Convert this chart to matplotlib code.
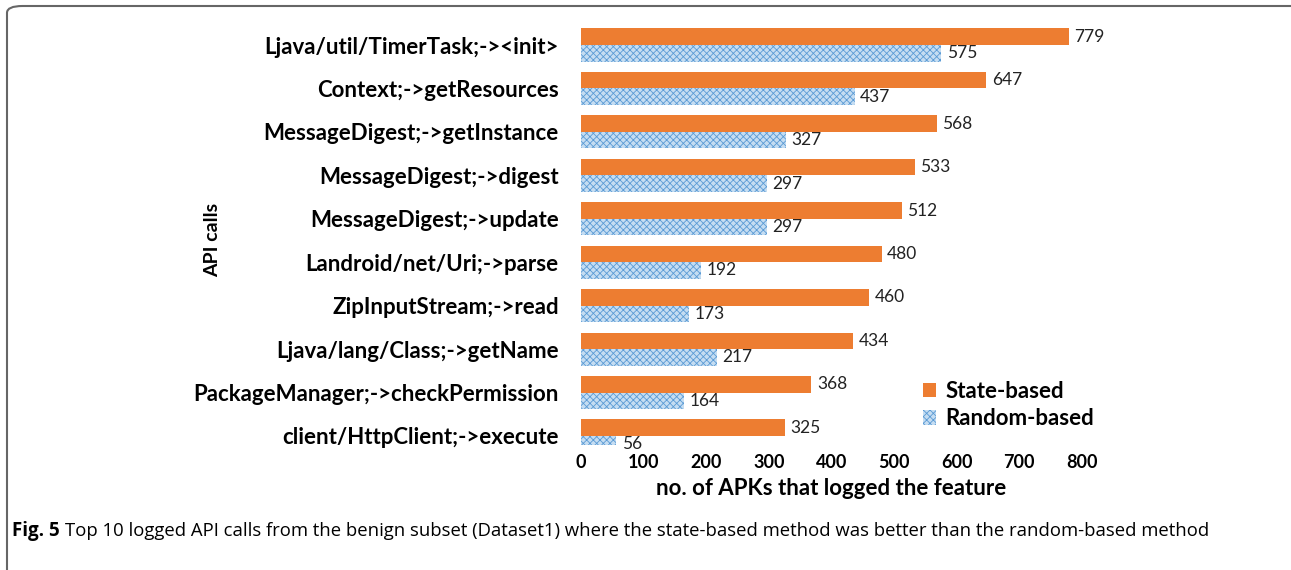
import matplotlib
matplotlib.use("Agg")
import matplotlib.pyplot as plt
from matplotlib.patches import FancyBboxPatch, Patch

categories = [
    "Ljava/util/TimerTask;-><init>",
    "Context;->getResources",
    "MessageDigest;->getInstance",
    "MessageDigest;->digest",
    "MessageDigest;->update",
    "Landroid/net/Uri;->parse",
    "ZipInputStream;->read",
    "Ljava/lang/Class;->getName",
    "PackageManager;->checkPermission",
    "client/HttpClient;->execute",
]
state_based = [779, 647, 568, 533, 512, 480, 460, 434, 368, 325]
random_based = [575, 437, 327, 297, 297, 192, 173, 217, 164, 56]
x_ticks = [0, 100, 200, 300, 400, 500, 600, 700, 800]

plt.rcParams['font.family'] = ['Lato', 'DejaVu Sans']
plt.rcParams['hatch.linewidth'] = 0.6

W, H = 1291, 570
fig = plt.figure(figsize=(W / 100, H / 100), dpi=100)

def fx(px):
    return px / W

def fy(py):
    return 1 - py / H

# axes: x 0 at 581px, 800 at 1082px; rows centered 45..436 px
top_px = 45 - 0.5 * 43.44
bot_px = 45 + 9.2 * 43.44
ax = fig.add_axes([fx(581), fy(bot_px), fx(1082) - fx(581), (bot_px - top_px) / H])

orange = "#ED7D31"
blue_face = "#c5ddf2"
blue_hatch = "#5b9bd5"
bh = 0.38
ypos = list(range(len(categories)))

ax.barh([y - bh / 2 for y in ypos], state_based, height=bh, color=orange, linewidth=0)
ax.barh([y + bh / 2 for y in ypos], random_based, height=bh, color=blue_face,
        hatch="xxxxx", edgecolor=blue_hatch, linewidth=0)

for y, v in zip(ypos, state_based):
    ax.annotate(str(v), (v, y - bh / 2), xytext=(4, 0), textcoords="offset points",
                va="center", ha="left", fontsize=12.5, color="#222222")
for y, v in zip(ypos, random_based):
    ax.annotate(str(v), (v, y + bh / 2), xytext=(4, 0), textcoords="offset points",
                va="center", ha="left", fontsize=12.5, color="#222222")

ax.set_xlim(0, 800)
ax.set_ylim(9.2, -0.5)
ax.set_xticks(x_ticks)
ax.set_xticklabels([str(t) for t in x_ticks], fontsize=13, fontweight="bold")
ax.set_yticks(ypos)
ax.set_yticklabels(categories, fontsize=16, fontweight="bold")
ax.tick_params(axis="both", length=0)
ax.tick_params(axis="y", pad=16)
ax.tick_params(axis="x", pad=7)
for s in ax.spines.values():
    s.set_visible(False)

ax.set_xlabel("no. of APKs that logged the feature", fontsize=16, fontweight="bold", labelpad=5)
fig.text(fx(213), fy(240), "API calls", rotation=90, ha="center", va="center",
         fontsize=14, fontweight="bold")

handles = [Patch(facecolor=orange, linewidth=0, label="State-based"),
           Patch(facecolor=blue_face, hatch="xxxxx", edgecolor=blue_hatch, linewidth=0,
                 label="Random-based")]
leg = fig.legend(handles=handles, loc="center left", bbox_to_anchor=(fx(903), fy(405)),
                 frameon=False, prop={"size": 16, "weight": "bold"},
                 handlelength=0.6, handleheight=0.6, handletextpad=0.4, labelspacing=0.3)

# frame
frame = FancyBboxPatch((fx(7), fy(620)), fx(1320) - fx(7), fy(6) - fy(620),
                       boxstyle="round,pad=0,rounding_size=0.012",
                       transform=fig.transFigure, facecolor="none",
                       edgecolor="#666666", linewidth=1.5, clip_on=False)
fig.patches.append(frame)

# caption
t1 = fig.text(fx(12), fy(531), "Fig. 5", fontsize=13.5, fontweight="bold",
              ha="left", va="center", family=["Open Sans", "DejaVu Sans"])
fig.canvas.draw()
r = fig.canvas.get_renderer()
bb = t1.get_window_extent(r)
fig.text(bb.x1 / W + fx(5), fy(531),
         "Top 10 logged API calls from the benign subset (Dataset1) where the state-based method was better than the random-based method",
         fontsize=13.3, ha="left", va="center", family=["Open Sans", "DejaVu Sans"])

fig.savefig("out.png", dpi=100)
